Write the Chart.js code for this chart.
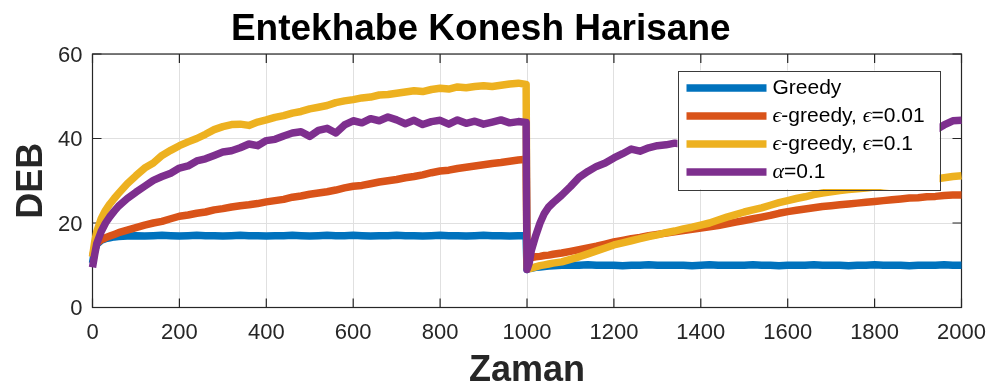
<!DOCTYPE html>
<html>
<head>
<meta charset="utf-8">
<script src="https://cdn.jsdelivr.net/npm/chart.js@4/dist/chart.umd.min.js"></script>
<style>
  html, body { margin: 0; padding: 0; background: #fff; }
  canvas { display: block; }
</style>
</head>
<body>
<canvas id="c" width="990" height="387"></canvas>
<script>
// ---------------- DATA ----------------
const TITLE = 'Entekhabe Konesh Harisane';
const X_LABEL = 'Zaman';
const Y_LABEL = 'DEB';
const seriesNames = ['Greedy', 'ϵ-greedy, ϵ=0.01', 'ϵ-greedy, ϵ=0.1', 'α=0.1'];
const xTicks = [0, 200, 400, 600, 800, 1000, 1200, 1400, 1600, 1800, 2000];
const yTicks = [0, 20, 40, 60];

const steps = [
  0, 5, 10, 20, 30, 40, 50, 60, 80, 100,
  120, 140, 160, 180, 200, 220, 240, 260, 280, 300,
  320, 340, 360, 380, 400, 420, 440, 460, 480, 500,
  520, 540, 560, 580, 600, 620, 640, 660, 680, 700,
  720, 740, 760, 780, 800, 820, 840, 860, 880, 900,
  920, 940, 960, 980, 998,
  1000, 1005, 1010, 1020, 1030, 1040, 1050, 1060, 1080, 1100,
  1120, 1140, 1160, 1180, 1200, 1220, 1240, 1260, 1280, 1300,
  1320, 1340, 1360, 1380, 1400, 1420, 1440, 1460, 1480, 1500,
  1520, 1540, 1560, 1580, 1600, 1620, 1640, 1660, 1680, 1700,
  1720, 1740, 1760, 1780, 1800, 1820, 1840, 1860, 1880, 1900,
  1920, 1940, 1960, 1980, 2000
];

const greedy = [
  10.5, 13.5, 15.0, 15.9, 16.3, 16.5, 16.7, 16.8, 16.9, 17.0,
  16.9, 17.0, 17.1, 17.0, 16.9, 17.0, 17.1, 17.0, 17.0, 16.9,
  17.0, 17.1, 17.0, 17.0, 16.9, 17.0, 17.0, 17.1, 17.0, 16.9,
  17.0, 17.1, 17.0, 17.0, 17.1, 17.0, 16.9, 17.0, 17.0, 17.1,
  17.0, 17.0, 16.9, 17.0, 17.1, 17.0, 17.0, 16.9, 17.0, 17.1,
  17.0, 17.0, 16.9, 17.0, 17.0,
  9.0, 9.2, 9.3, 9.5, 9.6, 9.7, 9.8, 9.9, 10.0, 10.0,
  10.0, 10.1, 10.0, 10.0, 10.0, 9.9, 10.0, 10.0, 10.1, 10.0,
  10.0, 10.0, 10.0, 9.9, 10.0, 10.1, 10.0, 10.0, 10.0, 10.0,
  10.1, 10.0, 10.0, 9.9, 10.0, 10.0, 10.0, 10.1, 10.0, 10.0,
  10.0, 9.9, 10.0, 10.0, 10.1, 10.0, 10.0, 10.0, 9.9, 10.0,
  10.0, 10.0, 10.1, 10.0, 10.0
];

const epsGreedy001 = [
  12.0, 14.2, 15.2, 16.0, 16.5, 16.9, 17.3, 17.7, 18.3, 18.9,
  19.5, 20.0, 20.4, 21.0, 21.6, 21.9, 22.3, 22.6, 23.1, 23.4,
  23.8, 24.1, 24.3, 24.6, 25.0, 25.3, 25.6, 26.1, 26.4, 26.8,
  27.1, 27.4, 27.8, 28.3, 28.7, 28.9, 29.3, 29.7, 30.0, 30.3,
  30.7, 31.0, 31.4, 31.9, 32.3, 32.5, 32.9, 33.2, 33.5, 33.8,
  34.1, 34.3, 34.6, 34.9, 35.1,
  11.0, 11.5, 11.8, 12.0, 12.1, 12.3, 12.4, 12.6, 12.9, 13.3,
  13.7, 14.1, 14.5, 15.0, 15.5, 15.9, 16.3, 16.6, 17.0, 17.3,
  17.6, 17.9, 18.2, 18.5, 18.8, 19.1, 19.4, 19.8, 20.2, 20.6,
  21.0, 21.4, 21.8, 22.3, 22.7, 23.0, 23.3, 23.6, 23.9, 24.1,
  24.3, 24.5, 24.7, 24.9, 25.1, 25.3, 25.5, 25.7, 25.9, 26.0,
  26.2, 26.3, 26.5, 26.6, 26.6
];

const epsGreedy01 = [
  12.0, 15.5, 18.0, 21.0, 23.0, 24.5, 25.8, 27.0, 29.3, 31.2,
  33.0, 34.2, 36.0, 37.2, 38.3, 39.2, 40.0, 41.0, 42.1, 42.8,
  43.3, 43.4, 43.1, 43.9, 44.4, 45.0, 45.4, 46.0, 46.4, 47.0,
  47.4, 47.8, 48.5, 48.9, 49.2, 49.6, 49.8, 50.3, 50.4, 50.7,
  51.0, 51.3, 51.1, 51.6, 51.9, 51.7, 52.2, 52.0, 52.3, 52.5,
  52.3, 52.6, 52.9, 53.1, 52.8,
  9.5, 9.2, 9.3, 9.6, 9.9, 10.1, 10.3, 10.5, 10.8, 11.4,
  12.0, 12.7, 13.4, 14.1, 14.8, 15.3, 15.8, 16.3, 16.8, 17.2,
  17.7, 18.1, 18.6, 19.0, 19.5, 20.0, 20.7, 21.4, 22.0, 22.6,
  23.1, 23.6, 24.2, 24.8, 25.3, 25.8, 26.2, 26.7, 27.1, 27.4,
  27.7, 27.9, 28.1, 28.3, 28.5, 28.8, 29.0, 29.4, 29.7, 30.0,
  30.2, 30.4, 30.7, 31.0, 31.2
];

const alpha01 = [
  9.5, 12.5, 15.2, 18.0, 20.0, 21.5, 22.8, 24.0, 25.8, 27.3,
  28.7, 30.1, 31.0, 31.8, 33.0, 33.5, 34.7, 35.2, 36.0, 36.8,
  37.1, 37.8, 38.7, 38.3, 39.5, 39.8, 40.6, 41.3, 41.6, 40.5,
  41.9, 42.4, 41.3, 43.2, 44.2, 43.7, 44.7, 44.2, 45.1, 44.4,
  43.5, 44.3, 43.3, 44.0, 44.3, 43.4, 44.4, 43.6, 44.1, 43.4,
  43.9, 44.4, 43.7, 44.0, 43.8,
  9.0, 10.5, 13.5, 17.0, 20.0, 22.3, 23.8, 24.8, 26.6, 28.6,
  30.8, 32.2, 33.4, 34.2, 35.4, 36.4, 37.5, 37.0, 37.8, 38.3,
  38.5, 38.9, 38.6, 39.2, 39.4, 39.8, 40.0, 40.3, 40.6, 40.9,
  41.1, 41.4, 41.2, 41.6, 41.9, 42.1, 41.8, 42.2, 42.4, 42.6,
  42.3, 42.7, 42.9, 42.6, 42.8, 43.1, 42.7, 42.9, 43.0, 42.5,
  42.1, 42.0, 43.2, 44.2, 44.3
];

const seriesValues = [greedy, epsGreedy001, epsGreedy01, alpha01];
const seriesColors = ['#0072BD', '#D95319', '#EDB120', '#7E2F8E'];

// ---------------- CHART ----------------
const FONT = '"Liberation Sans", Arial, Helvetica, sans-serif';
const GREEK_FONT = '"Liberation Serif", "DejaVu Serif", "Times New Roman", serif';
const AXIS_COLOR = '#262626';
Chart.defaults.font.family = FONT;

const framePlugin = {
  id: 'matlabFrame',
  beforeDatasetsDraw(chart) {
    const { ctx, chartArea: a, scales } = chart;
    const len = 9;
    ctx.save();
    ctx.strokeStyle = AXIS_COLOR;
    ctx.lineWidth = 1.2;
    ctx.beginPath();
    xTicks.forEach(v => {
      const px = scales.x.getPixelForValue(v);
      ctx.moveTo(px, a.bottom); ctx.lineTo(px, a.bottom - len);
      ctx.moveTo(px, a.top); ctx.lineTo(px, a.top + len);
    });
    yTicks.forEach(v => {
      const py = scales.y.getPixelForValue(v);
      ctx.moveTo(a.left, py); ctx.lineTo(a.left + len, py);
      ctx.moveTo(a.right, py); ctx.lineTo(a.right - len, py);
    });
    ctx.stroke();
    ctx.strokeRect(a.left, a.top, a.right - a.left, a.bottom - a.top);
    ctx.restore();
  }
};

function drawRichText(ctx, text, x, y, size) {
  let cx = x;
  const runs = [];
  for (const ch of text) {
    const greek = 'ϵα'.includes(ch);
    if (runs.length && runs[runs.length - 1].greek === greek) runs[runs.length - 1].t += ch;
    else runs.push({ t: ch, greek });
  }
  runs.forEach(r => {
    ctx.font = r.greek ? `italic ${size + 1}px ${GREEK_FONT}` : `${size}px ${FONT}`;
    ctx.fillText(r.t, cx, y);
    cx += ctx.measureText(r.t).width;
  });
}

const legendPlugin = {
  id: 'matlabLegend',
  afterDatasetsDraw(chart) {
    const { ctx, chartArea: a } = chart;
    const bw = 262, bh = 118.5;
    const bx = a.right - 22 - bw, by = a.top + 16.5;
    ctx.save();
    ctx.fillStyle = '#ffffff';
    ctx.fillRect(bx, by, bw, bh);
    ctx.strokeStyle = '#3a3a3a';
    ctx.lineWidth = 1;
    ctx.strokeRect(Math.round(bx) + 0.5, Math.round(by) + 0.5, Math.round(bw), Math.round(bh));
    seriesNames.forEach((name, i) => {
      const y = by + 17.6 + i * 28;
      ctx.strokeStyle = seriesColors[i];
      ctx.lineWidth = 7.5;
      ctx.lineCap = 'butt';
      ctx.beginPath();
      ctx.moveTo(bx + 9, y);
      ctx.lineTo(bx + 89, y);
      ctx.stroke();
      ctx.fillStyle = '#000';
      ctx.textBaseline = 'middle';
      ctx.textAlign = 'left';
      drawRichText(ctx, name, bx + 95, y, 21);
    });
    ctx.restore();
  }
};

const datasets = seriesNames.map((name, i) => ({
  label: name,
  data: steps.map((x, k) => ({ x, y: seriesValues[i][k] })),
  borderColor: seriesColors[i],
  backgroundColor: seriesColors[i],
  borderWidth: 7.5,
  pointRadius: 0,
  tension: 0,
  fill: false,
  borderJoinStyle: 'round',
  borderCapStyle: 'butt',
  clip: false,
  order: 3 - i
}));

new Chart(document.getElementById('c').getContext('2d'), {
  type: 'line',
  data: { datasets },
  options: {
    responsive: false,
    animation: false,
    devicePixelRatio: 1,
    layout: { padding: { left: 0, right: 28.5, top: 0, bottom: 0 } },
    plugins: {
      legend: { display: false },
      tooltip: { enabled: false },
      title: {
        display: true,
        text: TITLE,
        color: '#000',
        font: { family: FONT, size: 37, weight: 'bold', lineHeight: 1.2 },
        padding: { top: 8, bottom: 1.6 }
      }
    },
    scales: {
      x: {
        type: 'linear',
        min: 0, max: 2000,
        afterBuildTicks(s) { s.ticks = xTicks.map(v => ({ value: v })); },
        ticks: { color: AXIS_COLOR, font: { size: 22 }, padding: 12, maxRotation: 0, autoSkip: false,
                 callback: v => String(v) },
        grid: { color: '#e0e0e0', lineWidth: 1, drawTicks: false },
        border: { display: false },
        title: {
          display: true, text: X_LABEL, color: AXIS_COLOR,
          font: { size: 36, weight: 'bold', lineHeight: 1 },
          padding: { top: 0, bottom: -2.5 }
        },
        afterFit(s) { s.height = 79.5; s.paddingLeft = 0; s.paddingRight = 0; }
      },
      y: {
        type: 'linear',
        min: 0, max: 60,
        afterBuildTicks(s) { s.ticks = yTicks.map(v => ({ value: v })); },
        ticks: { color: AXIS_COLOR, font: { size: 22 }, padding: 10, labelOffset: 1.5,
                 callback: v => String(v) },
        grid: { color: '#e0e0e0', lineWidth: 1, drawTicks: false },
        border: { display: false },
        title: {
          display: true, text: Y_LABEL, color: AXIS_COLOR,
          font: { size: 36, weight: 'bold', lineHeight: 1 },
          padding: { top: 14, bottom: 0 }
        },
        afterFit(s) { s.width = 92.5; s.paddingTop = 0; s.paddingBottom = 0; }
      }
    }
  },
  plugins: [framePlugin, legendPlugin]
});
</script>
</body>
</html>
